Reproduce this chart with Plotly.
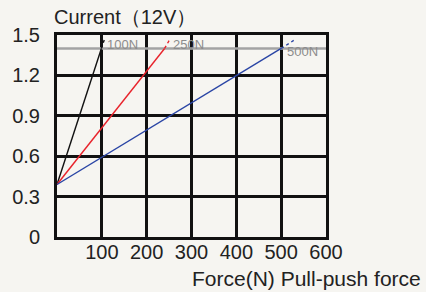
import plotly.graph_objects as go

# Data
limit_current = 1.40
black_force = [0, 99]
black_current = [0.39, 1.40]
black_ext_force = [99, 106]
black_ext_current = [1.40, 1.47]

red_force = [0, 240]
red_current = [0.39, 1.40]
red_ext_force = [240, 252]
red_ext_current = [1.40, 1.47]

blue_force = [0, 500]
blue_current = [0.39, 1.40]
blue_ext_force = [500, 528]
blue_ext_current = [1.40, 1.46]

x_ticks = [100, 200, 300, 400, 500, 600]
y_ticks = [0, 0.3, 0.6, 0.9, 1.2, 1.5]
y_tick_text = ["0", "0.3", "0.6", "0.9", "1.2", "1.5"]
labels = ["100N", "250N", "500N"]

BLACK = "#111111"
RED = "#e8232b"
BLUE = "#2a45a5"
GREY = "#a3a3a3"

fig = go.Figure()
fig.add_trace(go.Scatter(x=[0, 600], y=[limit_current, limit_current], mode="lines",
                         line=dict(color=GREY, width=2.5), showlegend=False))
for xs, ys, c in [(black_force, black_current, BLACK), (red_force, red_current, RED),
                  (blue_force, blue_current, BLUE)]:
    fig.add_trace(go.Scatter(x=xs, y=ys, mode="lines", line=dict(color=c, width=1.4),
                             showlegend=False))
for xs, ys, c in [(black_ext_force, black_ext_current, BLACK),
                  (red_ext_force, red_ext_current, RED),
                  (blue_ext_force, blue_ext_current, BLUE)]:
    fig.add_trace(go.Scatter(x=xs, y=ys, mode="lines",
                             line=dict(color=c, width=1.4, dash="dot"), showlegend=False,
                             cliponaxis=False))

font = "Liberation Sans, Arial, sans-serif"
TXT = "#222222"
fig.update_layout(
    width=426, height=292,
    margin=dict(l=57, r=100, t=35, b=55),
    paper_bgcolor="#f6f5f1", plot_bgcolor="#f6f5f1",
    font=dict(family=font, size=20, color=TXT),
    xaxis=dict(range=[0, 600], tickvals=x_ticks, showgrid=True, gridcolor=BLACK,
               gridwidth=3, showline=True, linecolor=BLACK, linewidth=3, mirror=True,
               zeroline=False, ticks="", ticklen=0, ticklabelstandoff=-5,
               tickfont=dict(size=20, family=font, color=TXT)),
    yaxis=dict(range=[0, 1.5], tickvals=y_ticks, ticktext=y_tick_text, showgrid=True,
               gridcolor=BLACK, gridwidth=3, showline=True, linecolor=BLACK,
               linewidth=3, mirror=True, zeroline=False, ticks="", ticklen=0,
               ticklabelstandoff=10,
               tickfont=dict(size=20, family=font, color=TXT)),
    annotations=[
        dict(text="Current（12V）", xref="paper", yref="paper", x=-0.018, y=1,
             xanchor="left", yanchor="middle", yshift=18, showarrow=False,
             font=dict(size=20, family=font, color=TXT)),
        dict(text="Force(N) Pull-push force", xref="paper", yref="paper", x=1.36, y=0,
             xanchor="right", yanchor="middle", yshift=-41, showarrow=False,
             font=dict(size=21, family=font, color=TXT)),
        dict(text=labels[0], xref="x", yref="y", x=black_ext_force[1], y=limit_current,
             xanchor="left", yanchor="middle", yshift=4, xshift=0, showarrow=False,
             font=dict(size=13, family=font, color="#8c8c8c")),
        dict(text=labels[1], xref="x", yref="y", x=red_ext_force[1], y=limit_current,
             xanchor="left", yanchor="middle", yshift=4, xshift=1, showarrow=False,
             font=dict(size=13, family=font, color="#8c8c8c")),
        dict(text=labels[2], xref="x", yref="y", x=blue_force[1], y=limit_current,
             xanchor="left", yanchor="middle", yshift=-3, xshift=4, showarrow=False,
             font=dict(size=13, family=font, color="#8c8c8c")),
    ],
)

fig.write_html("out.html", config={"displayModeBar": False},
               post_script="document.body.style.margin='0';document.body.style.background='#f6f5f1';")
